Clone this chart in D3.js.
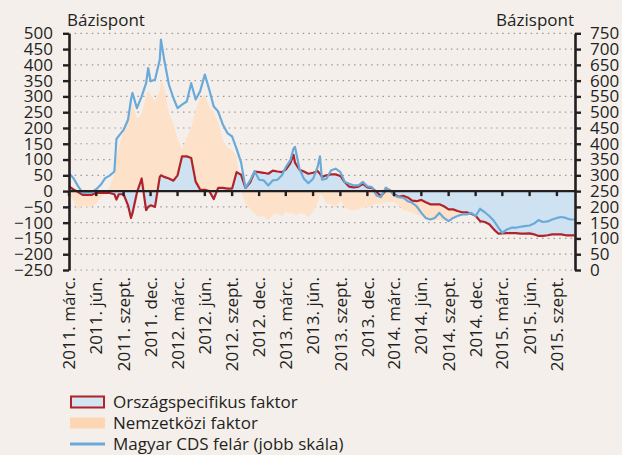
<!DOCTYPE html>
<html>
<head>
<meta charset="utf-8">
<script src="https://cdn.jsdelivr.net/npm/d3@7"></script>
<style>
  html, body { margin: 0; padding: 0; background: #f5efec; }
  svg { display: block; }
  text { font-family: "Open Sans", "DejaVu Sans", sans-serif; fill: #231f20; }
</style>
</head>
<body>
<svg id="chart" width="622" height="455"></svg>
<script>
// ---------------- DATA ----------------
const dates = [
  "2011-03-01","2011-03-16","2011-04-01","2011-04-16","2011-05-01","2011-05-16","2011-06-01","2011-06-16",
  "2011-07-01","2011-07-16","2011-08-01","2011-08-08","2011-08-16","2011-09-01","2011-09-16","2011-09-26",
  "2011-10-01","2011-10-16","2011-11-01","2011-11-16","2011-11-23","2011-12-01","2011-12-16","2012-01-01",
  "2012-01-05","2012-01-16","2012-02-01","2012-02-16","2012-03-01","2012-03-16","2012-04-01","2012-04-16",
  "2012-05-01","2012-05-16","2012-06-01","2012-06-16","2012-07-01","2012-07-16","2012-08-01","2012-08-16",
  "2012-09-01","2012-09-16","2012-10-01","2012-10-16","2012-11-01","2012-11-16","2012-12-01","2012-12-16",
  "2013-01-01","2013-01-16","2013-02-01","2013-02-16","2013-03-01","2013-03-16","2013-03-27","2013-04-01",
  "2013-04-16","2013-05-01","2013-05-16","2013-06-01","2013-06-16","2013-06-24","2013-07-01","2013-07-16",
  "2013-08-01","2013-08-16","2013-09-01","2013-09-16","2013-10-01","2013-10-16","2013-11-01","2013-11-16",
  "2013-12-01","2013-12-16","2014-01-01","2014-01-16","2014-02-01","2014-02-16","2014-03-01","2014-03-16",
  "2014-04-01","2014-04-16","2014-05-01","2014-05-16","2014-06-01","2014-06-16","2014-07-01","2014-07-16",
  "2014-08-01","2014-08-16","2014-09-01","2014-09-16","2014-10-01","2014-10-16","2014-11-01","2014-11-16",
  "2014-12-01","2014-12-16","2015-01-01","2015-01-16","2015-02-01","2015-02-16","2015-03-01","2015-03-16",
  "2015-04-01","2015-04-16","2015-05-01","2015-05-16","2015-06-01","2015-06-16","2015-07-01","2015-07-16",
  "2015-08-01","2015-08-16","2015-09-01","2015-09-16","2015-10-01","2015-10-16","2015-10-30"
];
// Országspecifikus faktor (bal skála, bázispont)
const countryFactor = [
  15,5,-3,-12,-12,-12,-5,-6,
  -6,-6,-10,-27,-10,-10,-45,-85,
  -70,-5,40,-60,-50,-45,-50,45,
  50,45,40,33,50,110,110,105,
  30,5,4,0,-25,10,10,8,
  8,60,52,10,28,62,60,58,
  55,65,62,60,68,88,115,90,
  68,62,55,58,64,55,45,50,
  53,53,48,28,14,12,14,23,
  12,10,-3,-16,2,2,-10,-18,
  -15,-20,-30,-32,-28,-35,-42,-42,
  -42,-48,-58,-58,-63,-67,-67,-72,
  -78,-95,-98,-105,-122,-135,-134,-133,
  -133,-133,-135,-135,-134,-137,-142,-142,
  -140,-137,-137,-137,-140,-140,-140
];
// Nemzetközi faktor (bal skála, bázispont)
const internationalFactor = [
  -10,-30,-60,-45,-50,-48,-40,-20,
  -8,15,50,110,140,190,235,255,
  280,230,245,300,320,305,285,320,
  353,330,245,215,165,131,170,200,
  258,295,305,265,250,220,160,140,
  130,110,0,-40,-55,-72,-82,-78,
  -93,-75,-72,-80,-65,-72,-70,-77,
  -70,-72,-82,-65,-40,-10,-12,-40,
  -42,-50,-30,-50,-60,-61,-58,-52,
  -52,-45,-40,-40,-35,-35,-35,-45,
  -60,-63,-68,-75,-80,-88,-92,-92,
  -90,-95,-92,-88,-80,-70,-68,-65,
  -50,-30,-25,-20,-15,-10,-10,-10,
  -10,-10,-10,-10,-10,-10,-10,-10,
  -10,-10,-10,-10,-10,-10,-10
];
// Magyar CDS felár (jobb skála, bázispont)
const cdsSpread = [
  307,291,265,244,246,246,256,270,
  291,299,312,415,425,444,476,540,
  561,513,550,592,640,598,603,666,
  730,666,587,545,513,524,534,592,
  540,566,619,571,518,502,460,434,
  423,384,342,261,284,313,286,284,
  268,284,286,300,326,347,385,390,
  321,289,275,289,326,360,286,289,
  316,321,310,279,273,268,268,279,
  265,263,236,231,261,252,236,231,
  229,218,213,202,181,165,160,165,
  181,165,155,165,171,176,176,181,
  171,194,183,171,155,134,118,128,
  134,134,137,139,141,147,158,152,
  154,160,165,168,165,160,160
];
const xTickDates = [
  "2011-03-01","2011-06-01","2011-09-01","2011-12-01","2012-03-01","2012-06-01","2012-09-01","2012-12-01",
  "2013-03-01","2013-06-01","2013-09-01","2013-12-01","2014-03-01","2014-06-01","2014-09-01","2014-12-01",
  "2015-03-01","2015-06-01","2015-09-01"
];
const xTickLabels = [
  "2011. márc.","2011. jún.","2011. szept.","2011. dec.","2012. márc.","2012. jún.","2012. szept.","2012. dec.",
  "2013. márc.","2013. jún.","2013. szept.","2013. dec.","2014. márc.","2014. jún.","2014. szept.","2014. dec.",
  "2015. márc.","2015. jún.","2015. szept."
];
const leftTicks = [-250,-200,-150,-100,-50,0,50,100,150,200,250,300,350,400,450,500];
const rightTicks = [0,50,100,150,200,250,300,350,400,450,500,550,600,650,700,750];
const axisTitle = "Bázispont";
const legendLabels = ["Országspecifikus faktor", "Nemzetközi faktor", "Magyar CDS felár (jobb skála)"];

// ---------------- CHART ----------------
const parse = d3.timeParse("%Y-%m-%d");
const rows = dates.map((d, i) => ({
  date: parse(d), country: countryFactor[i], intl: internationalFactor[i], cds: cdsSpread[i]
}));

const L = 69, R = 575, T = 33.3, B = 270;
const svg = d3.select("#chart");
svg.append("rect").attr("width", 622).attr("height", 455).attr("fill", "#f5efec");

const x = d3.scaleTime().domain([parse("2011-03-01"), parse("2015-11-01")]).range([L, R]);
const yL = d3.scaleLinear().domain([-250, 500]).range([B, T]);
const yR = d3.scaleLinear().domain([0, 750]).range([B, T]);

// grid
svg.append("g").selectAll("line").data(leftTicks.filter(v => v !== 0)).join("line")
  .attr("x1", L).attr("x2", R).attr("y1", d => yL(d)).attr("y2", d => yL(d))
  .attr("stroke", "#9a9a9a").attr("stroke-width", 1.2).attr("stroke-dasharray", "1.5,4.2");

// areas
const areaIntl = d3.area().x(d => x(d.date)).y0(yL(0)).y1(d => yL(d.intl));
const areaCountry = d3.area().x(d => x(d.date)).y0(yL(0)).y1(d => yL(d.country));
svg.append("path").datum(rows).attr("d", areaIntl).attr("fill", "#fde1c9");
svg.append("path").datum(rows).attr("d", areaCountry).attr("fill", "#cfe2f2");

// lines
const lineCountry = d3.line().x(d => x(d.date)).y(d => yL(d.country));
const lineCds = d3.line().x(d => x(d.date)).y(d => yR(d.cds));
svg.append("path").datum(rows).attr("d", lineCountry).attr("fill", "none")
  .attr("stroke", "#b0232a").attr("stroke-width", 2.2).attr("stroke-linejoin", "round");
svg.append("path").datum(rows).attr("d", lineCds).attr("fill", "none")
  .attr("stroke", "#6aaad9").attr("stroke-width", 2.2).attr("stroke-linejoin", "round");

// zero line with quarterly ticks
const y0 = yL(0);
svg.append("line").attr("x1", L).attr("x2", R).attr("y1", y0).attr("y2", y0)
  .attr("stroke", "#231f20").attr("stroke-width", 2.4);
svg.append("g").selectAll("line").data(xTickDates.map(parse)).join("line")
  .attr("x1", d => x(d)).attr("x2", d => x(d)).attr("y1", y0).attr("y2", y0 + 5)
  .attr("stroke", "#231f20").attr("stroke-width", 2.4);

// x labels
svg.append("g").selectAll("text").data(xTickDates).join("text")
  .attr("transform", (d) => `translate(${x(parse(d))},${B + 7}) rotate(-90)`)
  .attr("text-anchor", "end").attr("dy", "0.36em")
  .style("font-size", "17px")
  .text((d, i) => xTickLabels[i]);

// axes
const fmt = d3.format("d");
const gL = svg.append("g").attr("transform", `translate(${L},0)`)
  .call(d3.axisLeft(yL).tickValues(leftTicks).tickFormat(fmt).tickSize(6).tickSizeOuter(0).tickPadding(10));
const gR = svg.append("g").attr("transform", `translate(${R},0)`)
  .call(d3.axisRight(yR).tickValues(rightTicks).tickFormat(fmt).tickSize(6).tickSizeOuter(0).tickPadding(9));
[gL, gR].forEach(g => {
  g.select(".domain").attr("stroke", "#231f20").attr("stroke-width", 2.6);
  g.selectAll(".tick line").attr("stroke", "#231f20").attr("stroke-width", 2.4);
  g.selectAll(".tick text").style("font-size", "17px").style("font-family", "'Open Sans', sans-serif").attr("fill", "#231f20");
});

// axis titles
svg.append("text").attr("x", 67).attr("y", 26).style("font-size", "17px").text(axisTitle);
svg.append("text").attr("x", 574).attr("y", 26).attr("text-anchor", "end").style("font-size", "17px").text(axisTitle);

// legend
const lg = svg.append("g");
const rowY = [402, 423, 444];
lg.append("rect").attr("x", 71).attr("y", 396.5).attr("width", 33).attr("height", 11)
  .attr("fill", "#d3e4f3").attr("stroke", "#b0232a").attr("stroke-width", 2);
lg.append("rect").attr("x", 70).attr("y", 417.5).attr("width", 35).attr("height", 11).attr("fill", "#fdd6b4");
lg.append("line").attr("x1", 70).attr("x2", 105).attr("y1", 444).attr("y2", 444)
  .attr("stroke", "#6aaad9").attr("stroke-width", 3);
lg.selectAll("text").data(legendLabels).join("text")
  .attr("x", 113).attr("y", (d, i) => rowY[i]).attr("dy", "0.35em")
  .style("font-size", "17px").text(d => d);
</script>
</body>
</html>
